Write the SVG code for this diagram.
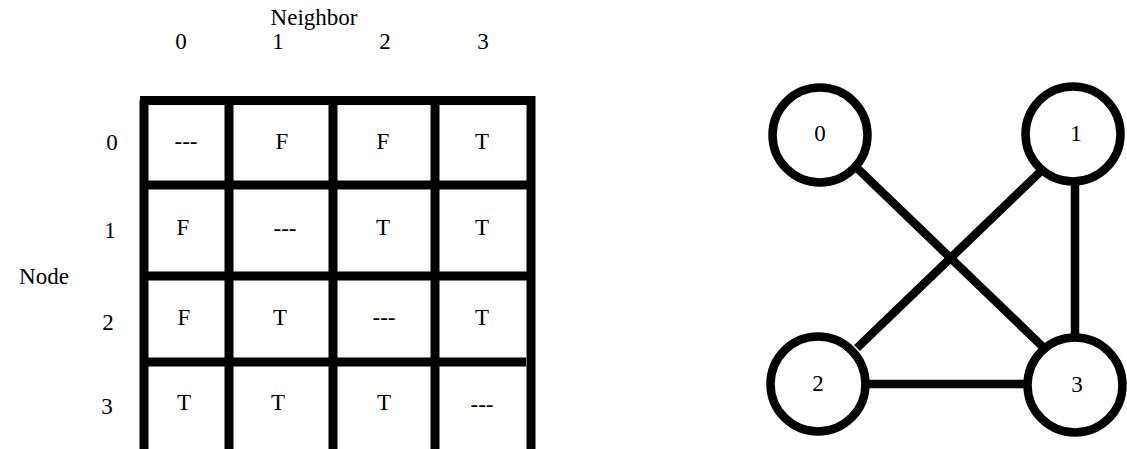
<svg xmlns="http://www.w3.org/2000/svg" width="1127" height="449" viewBox="0 0 1127 449" font-family="'Liberation Serif', 'Times New Roman', serif">
<style>
text{font-family:'Liberation Serif','Times New Roman',serif;font-size:23px;fill:#000;text-anchor:middle}
.g{stroke:#000;stroke-width:9;fill:none}
.e{stroke:#000;stroke-width:8.5;fill:none}
.n{stroke:#000;stroke-width:8.5;fill:#fff}
</style>
<rect width="1127" height="449" fill="#fff"/>
<g id="labels">
<text x="314" y="25">Neighbor</text>
<text x="181" y="49">0</text>
<text x="278" y="49">1</text>
<text x="385" y="49">2</text>
<text x="483" y="49">3</text>
<text x="112" y="150">0</text>
<text x="110" y="238">1</text>
<text x="108" y="330">2</text>
<text x="107" y="414">3</text>
<text x="44" y="284">Node</text>
</g>
<g id="grid">
<path class="g" d="M144,100.5V449M229,100.5V449M333,100.5V449M435,100.5V449M531,96V449"/>
<path class="g" d="M140,100.5H535M140,185H535M140,276H535M140,362H526"/>
</g>
<g id="cells">
<text x="186" y="149">---</text><text x="282" y="149">F</text><text x="383" y="149">F</text><text x="482" y="149">T</text>
<text x="183" y="235">F</text><text x="285" y="236">---</text><text x="383" y="235">T</text><text x="482" y="235">T</text>
<text x="184" y="325">F</text><text x="280" y="325">T</text><text x="384" y="325">---</text><text x="482" y="325">T</text>
<text x="184" y="410">T</text><text x="278" y="410">T</text><text x="384" y="410">T</text><text x="482" y="412">---</text>
</g>
<g id="connectors">
<line class="e" x1="857" y1="168" x2="1043" y2="347"/>
<line class="e" x1="1040" y1="172" x2="857" y2="348"/>
<line class="e" x1="1075" y1="184" x2="1075" y2="334"/>
<line class="e" x1="866" y1="384" x2="1028" y2="384"/>
</g>
<g id="node0"><circle class="n" cx="820" cy="135" r="47.5"/><text x="820" y="141">0</text></g>
<g id="node1"><circle class="n" cx="1073" cy="134" r="47.5"/><text x="1076" y="141">1</text></g>
<g id="node2"><circle class="n" cx="818" cy="384" r="47.5"/><text x="818" y="391">2</text></g>
<g id="node3"><circle class="n" cx="1075" cy="385" r="47.5"/><text x="1077" y="392">3</text></g>
</svg>
